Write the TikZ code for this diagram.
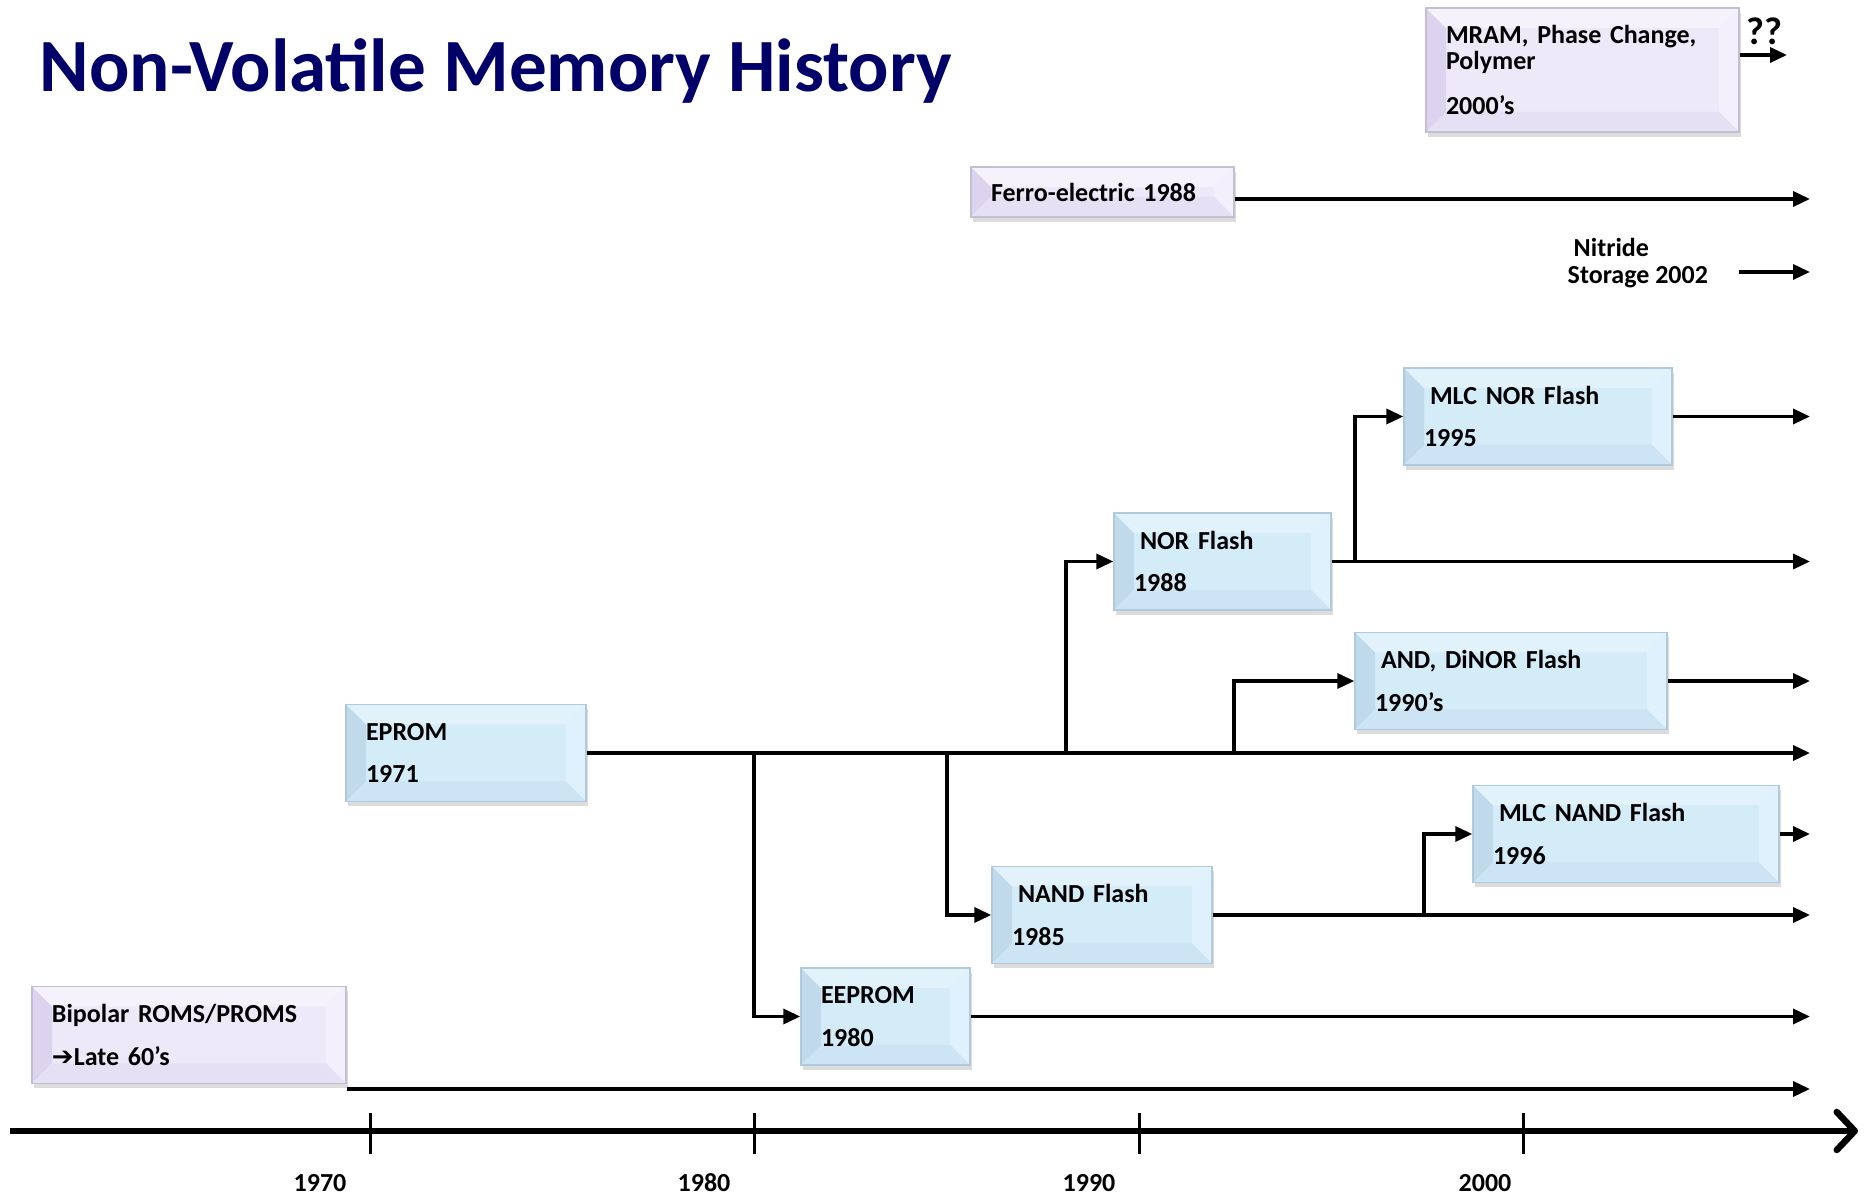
\documentclass[tikz,border=0pt]{standalone}
\usepackage{fontspec}
\setmainfont{Carlito}
\newfontfamily\symfont{DejaVu Sans}
\usetikzlibrary{arrows.meta,shadows}
\frenchspacing

\definecolor{navy}{RGB}{0,0,104}
\definecolor{bluefill}{RGB}{212,235,248}
\definecolor{blueleft}{RGB}{192,218,235}
\definecolor{bluetop}{RGB}{226,242,251}
\definecolor{blueright}{RGB}{222,241,252}
\definecolor{bluebot}{RGB}{204,228,243}
\definecolor{bluedraw}{RGB}{176,202,220}
\definecolor{lavfill}{RGB}{238,233,249}
\definecolor{lavleft}{RGB}{220,212,238}
\definecolor{lavtop}{RGB}{245,242,252}
\definecolor{lavright}{RGB}{243,239,252}
\definecolor{lavbot}{RGB}{230,224,244}
\definecolor{lavdraw}{RGB}{196,190,212}

\tikzset{
  bevel/.style n args={4}{path picture={
    \coordinate (sw) at (path picture bounding box.south west);
    \coordinate (ne) at (path picture bounding box.north east);
    \coordinate (nw) at (sw|-ne);
    \coordinate (se) at (ne|-sw);
    \fill[#1] (sw) -- (nw) -- ([shift={(0.2,-0.2)}]nw) -- ([shift={(0.2,0.2)}]sw) -- cycle;
    \fill[#2] (nw) -- (ne) -- ([shift={(-0.2,-0.2)}]ne) -- ([shift={(0.2,-0.2)}]nw) -- cycle;
    \fill[#3] (ne) -- (se) -- ([shift={(-0.2,0.2)}]se) -- ([shift={(-0.2,-0.2)}]ne) -- cycle;
    \fill[#4] (se) -- (sw) -- ([shift={(0.2,0.2)}]sw) -- ([shift={(-0.2,0.2)}]se) -- cycle;
  }},
  boxbase/.style={rectangle, line width=0.4pt, inner xsep=0.2cm, inner ysep=0.1cm,
    minimum height=0.97cm, align=left, font=\fontsize{7.4}{12.2}\selectfont\bfseries,
    drop shadow={shadow xshift=0.02cm, shadow yshift=-0.05cm, opacity=0.3, fill=black!45}},
  blubox/.style={boxbase, fill=bluefill, draw=bluedraw,
    bevel={blueleft}{bluetop}{blueright}{bluebot}},
  lavbox/.style={boxbase, fill=lavfill, draw=lavdraw,
    bevel={lavleft}{lavtop}{lavright}{lavbot}},
  conn/.style={line width=0.035cm, -{Triangle[length=0.17cm,width=0.15cm]}},
  axis/.style={line width=0.065cm, -{Straight Barb[round,length=0.18cm,width=0.38cm]}},
  yearlbl/.style={inner sep=0pt, font=\fontsize{7.4}{9}\selectfont\bfseries},
}

\begin{document}
\begin{tikzpicture}
\useasboundingbox (0,0) rectangle (18.70,-11.96);

\node[anchor=base west, inner sep=0pt, text=navy, font=\fontsize{21.4}{24}\selectfont\bfseries]
  (title) at (0.39,-0.92) {Non-Volatile Memory History};

% memory boxes
\node[lavbox, text width=2.73cm, minimum height=1.24cm, font=\fontsize{7.4}{7.4}\selectfont\bfseries]
  (mram) at (15.825,-0.70) {MRAM, Phase Change,\\Polymer\\[5.4pt]2000’s};
\node[lavbox, text width=2.23cm, minimum height=0.50cm] (ferro) at (11.025,-1.92) {Ferro-electric 1988};
\node[blubox, text width=2.28cm] (mlcnor) at (15.38,-4.165) {\hspace*{0.06cm}MLC NOR Flash\\1995};
\node[blubox, text width=1.77cm] (nor) at (12.225,-5.615) {\hspace*{0.06cm}NOR Flash\\1988};
\node[blubox, text width=2.72cm] (and) at (15.11,-6.81) {\hspace*{0.06cm}AND, DiNOR Flash\\1990’s};
\node[blubox, text width=2.00cm] (eprom) at (4.66,-7.53) {EPROM\\1971};
\node[blubox, text width=2.66cm] (mlcnand) at (16.26,-8.34) {\hspace*{0.06cm}MLC NAND Flash\\1996};
\node[blubox, text width=1.80cm] (nand) at (11.02,-9.15) {\hspace*{0.06cm}NAND Flash\\1985};
\node[blubox, text width=1.29cm] (eeprom) at (8.855,-10.165) {EEPROM\\1980};
\node[lavbox, text width=2.74cm] (bipolar) at (1.89,-10.35) {Bipolar ROMS/PROMS\\{\symfont\bfseries ➔}Late 60’s};

\node[anchor=west, inner sep=0pt, align=left, font=\fontsize{7.4}{7.7}\selectfont\bfseries]
  (nitride) at (15.67,-2.635) {\hspace*{0.06cm}Nitride\\Storage 2002};
\node[inner sep=0pt, font=\fontsize{11}{12}\selectfont\bfseries] (qq) at (17.64,-0.31) {??};

% free ends on the right
\coordinate (mram end) at (17.87,-0.55);
\coordinate (ferro end) at (18.10,-1.99);
\coordinate (nit end) at (18.10,-2.72);
\coordinate (bip end) at (18.10,-10.89);
\foreach \n in {mlcnor,nor,and,eprom,mlcnand,nand,eeprom}
  \coordinate (\n end) at (18.10,0 |- \n.east);

% branch points
\coordinate (b80) at (7.54,0 |- eprom.east);
\coordinate (b85) at (9.47,0 |- eprom.east);
\coordinate (b88) at (10.66,0 |- eprom.east);
\coordinate (b90) at (12.34,0 |- eprom.east);
\coordinate (b95) at (13.55,0 |- nor.east);
\coordinate (b96) at (14.24,0 |- nand.east);

\foreach \n in {mlcnor,nor,and,eprom,mlcnand,nand,eeprom}
  \draw[conn] (\n.east) -- (\n end);
\draw[conn] (mram.east |- mram end) -- (mram end);
\draw[conn] (ferro.east |- ferro end) -- (ferro end);
\draw[conn] (nitride.east |- nit end) ++(0.3,0) -- (nit end);
\draw[conn] (bipolar.south east |- bip end) -- (bip end);

\draw[conn] (b80) |- (eeprom.west);
\draw[conn] (b85) |- (nand.west);
\draw[conn] (b88) |- (nor.west);
\draw[conn] (b90) |- (and.west);
\draw[conn] (b95) |- (mlcnor.west);
\draw[conn] (b96) |- (mlcnand.west);

% time axis
\coordinate (ax start) at (0.10,-11.31);
\coordinate (ax end) at (18.58,-11.31);
\draw[axis] (ax start) -- (ax end);
\foreach \x/\lx/\yr in {3.70/3.20/1970, 7.54/7.04/1980, 11.39/10.89/1990, 15.23/14.85/2000} {
  \draw[line width=0.03cm] (\x,-11.13) -- (\x,-11.54);
  \node[yearlbl] (y\yr) at (\lx,-11.83) {\yr};
}
\end{tikzpicture}
\end{document}
